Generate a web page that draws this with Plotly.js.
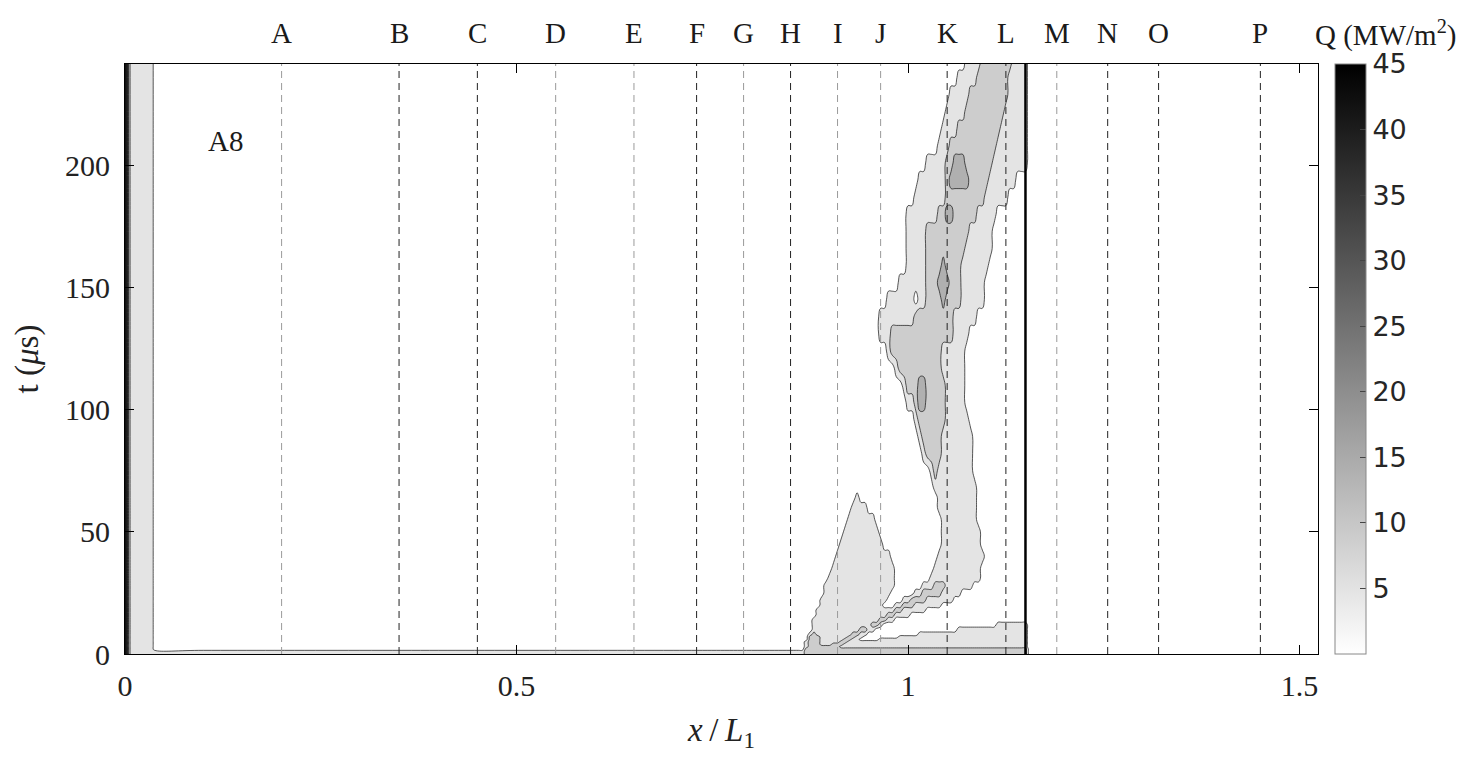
<!DOCTYPE html>
<html>
<head>
<meta charset="utf-8">
<script src="https://cdn.plot.ly/plotly-3.0.1.min.js"></script>
<style>
  html, body { margin: 0; padding: 0; background: #fff; }
  #chart { width: 1481px; height: 768px; }
</style>
</head>
<body>
<div id="chart"></div>
<script>
// grid of the heat-flux field, x/L1 columns and t (us) rows
const xGrid = [0, 0.005, 0.008, 0.034, 0.038, 0.1, 0.3, 0.5, 0.7, 0.8, 0.85,
    0.86, 0.865, 0.87, 0.875, 0.88, 0.885, 0.89, 0.895, 0.9, 0.905, 0.91, 0.915, 0.92, 0.925, 0.93,
    0.935, 0.94, 0.945, 0.95, 0.955, 0.96, 0.965, 0.97, 0.975, 0.98, 0.985, 0.99, 0.995, 1.0, 1.005,
    1.01, 1.015, 1.02, 1.025, 1.03, 1.035, 1.04, 1.045, 1.05, 1.055, 1.06, 1.065, 1.07, 1.075, 1.08,
    1.085, 1.09, 1.095, 1.1, 1.105, 1.11, 1.115, 1.12, 1.125, 1.13, 1.135, 1.14, 1.145, 1.15,
    1.155, 1.5236];
const tGrid = [0, 1, 2, 3, 4, 5, 6, 7, 8, 10, 12, 14, 16, 18, 20, 22, 25, 28, 31, 35, 40, 45, 50, 55,
    60, 64, 68, 75, 82, 89, 96, 103, 110, 117, 124, 131, 138, 145, 152, 159, 166, 173, 180, 187,
    194, 201, 208, 215, 222, 229, 236, 242];

// flux band read at each node (0: <5, 1: 5-10, 2: 10-15, 3: 15-20 ... 9: >45 MW/m2)
// rows are run-length pairs: band, number of columns
const strip = [9,1, 2,1, 1,2, 0,7];
const open = [0,2];
const bandRuns = [
    [9,1, 2,1, 1,9, 1,2, 2,57, 0,2],
    [9,1, 2,1, 1,9, 1,2, 2,57, 0,2],
    [...strip, 0,2, 2,57, ...open],
    [...strip, 0,2, 1,1, 2,8, 1,48, ...open],
    [...strip, 0,2, 1,1, 2,3, 1,3, 2,3, 1,47, ...open],
    [...strip, 0,2, 1,1, 2,3, 1,5, 2,2, 1,46, ...open],
    [...strip, 0,3, 2,3, 1,6, 2,2, 1,2, 0,5, 1,38, ...open],
    [...strip, 0,3, 2,3, 1,7, 2,2, 1,2, 0,9, 1,33, ...open],
    [...strip, 0,3, 1,1, 2,1, 1,9, 2,2, 1,2, 0,13, 1,28, ...open],
    [...strip, 0,4, 1,12, 2,2, 1,2, 0,21, 1,18, ...open],
    [...strip, 0,4, 1,15, 2,2, 1,1, 0,29, 1,8, ...open],
    [...strip, 0,4, 1,17, 2,2, 1,2, 0,34, ...open],
    [...strip, 0,5, 1,18, 2,2, 1,4, 0,30, ...open],
    [...strip, 0,5, 1,20, 2,2, 1,6, 0,26, ...open],
    [...strip, 0,6, 1,16, 0,3, 1,2, 2,3, 1,7, 0,22, ...open],
    [...strip, 0,6, 1,17, 0,4, 1,2, 2,4, 1,7, 0,19, ...open],
    [...strip, 0,7, 1,17, 0,6, 1,2, 2,5, 1,5, 0,17, ...open],
    [...strip, 0,7, 1,18, 0,7, 1,3, 2,3, 1,7, 0,14, ...open],
    [...strip, 0,8, 1,17, 0,9, 1,13, 0,12, ...open],
    [...strip, 0,9, 1,16, 0,10, 1,12, 0,12, ...open],
    [...strip, 0,10, 1,14, 0,12, 1,12, 0,11, ...open],
    [...strip, 0,11, 1,11, 0,15, 1,10, 0,12, ...open],
    [...strip, 0,12, 1,9, 0,16, 1,10, 0,12, ...open],
    [...strip, 0,13, 1,7, 0,17, 1,9, 0,13, ...open],
    [...strip, 0,14, 1,4, 0,18, 1,10, 0,13, ...open],
    [...strip, 0,15, 1,1, 0,20, 1,10, 0,13, ...open],
    [...strip, 0,35, 1,11, 0,13, ...open],
    [...strip, 0,34, 1,1, 2,1, 1,9, 0,14, ...open],
    [...strip, 0,32, 1,1, 2,4, 1,8, 0,14, ...open],
    [...strip, 0,31, 1,1, 2,5, 1,8, 0,14, ...open],
    [...strip, 0,30, 1,1, 2,7, 1,6, 0,15, ...open],
    [...strip, 0,28, 1,2, 2,1, 3,2, 2,5, 1,5, 0,16, ...open],
    [...strip, 0,27, 1,1, 2,3, 3,2, 2,5, 1,5, 0,16, ...open],
    [...strip, 0,25, 1,1, 2,11, 1,6, 0,16, ...open],
    [...strip, 0,23, 1,1, 2,13, 1,6, 0,16, ...open],
    [...strip, 0,21, 1,3, 2,16, 1,4, 0,15, ...open],
    [...strip, 0,21, 1,9, 2,10, 1,6, 0,13, ...open],
    [...strip, 0,23, 1,7, 0,1, 1,2, 2,4, 3,1, 2,4, 1,6, 0,11, ...open],
    [...strip, 0,26, 1,7, 2,3, 3,3, 2,3, 1,6, 0,11, ...open],
    [...strip, 0,28, 1,5, 2,4, 3,1, 2,4, 1,7, 0,10, ...open],
    [...strip, 0,28, 1,5, 2,10, 1,7, 0,9, ...open],
    [...strip, 0,28, 1,5, 2,11, 1,6, 0,9, ...open],
    [...strip, 0,28, 1,8, 2,2, 3,2, 2,6, 1,5, 0,8, ...open],
    [...strip, 0,30, 1,8, 2,10, 1,6, 0,5, ...open],
    [...strip, 0,31, 1,7, 2,1, 3,5, 2,5, 1,7, 0,3, ...open],
    [...strip, 0,33, 1,5, 2,2, 3,3, 2,7, 1,9, ...open],
    [...strip, 0,36, 1,3, 2,12, 1,8, ...open],
    [...strip, 0,37, 1,4, 2,11, 1,7, ...open],
    [...strip, 0,38, 1,5, 2,10, 1,6, ...open],
    [...strip, 0,39, 1,5, 2,10, 1,5, ...open],
    [...strip, 0,41, 1,5, 2,8, 1,5, ...open],
    [...strip, 0,43, 1,4, 2,8, 1,4, ...open]
];

// gauge positions along the channel
const probeX = [0.2, 0.35, 0.45, 0.55, 0.65, 0.73, 0.79, 0.85, 0.91, 0.965, 1.05, 1.125, 1.19, 1.255, 1.32, 1.45];
const probeLabels = ['A', 'B', 'C', 'D', 'E', 'F', 'G', 'H', 'I', 'J', 'K', 'L', 'M', 'N', 'O', 'P'];
const probeDark = [false, true, true, false, false, true, false, true, false, false, true, true, false, true, true, true];
const wallX = 1.15;
const fluxTicks = [5, 10, 15, 20, 25, 30, 35, 40, 45];

const serif = 'Liberation Serif, DejaVu Serif, serif';

// band index -> flux value in the middle of the band
function expandRow(runs) {
    let row = [];
    for (let k = 0; k < runs.length; k += 2) {
        for (let n = 0; n < runs[k + 1]; n++) row.push(runs[k] * 5 + 2.5);
    }
    if (row.length !== xGrid.length) console.warn('row length', row.length);
    return row;
}
const zField = bandRuns.map(expandRow);

let fieldTrace = {
    type: 'contour',
    x: xGrid,
    y: tGrid,
    z: zField,
    autocontour: false,
    contours: {start: 5, end: 45, size: 5, coloring: 'fill', showlines: true},
    colorscale: [[0, '#ffffff'], [1 / 9, '#e4e4e4'], [2 / 9, '#cdcdcd'], [3 / 9, '#b0b0b0'], [1, '#000000']],
    line: {color: '#111', width: 0.7, smoothing: 1.2},
    showscale: false,
    hoverinfo: 'skip'
};

// invisible trace that only carries the flux colour bar
let scaleTrace = {
    type: 'scatter',
    mode: 'markers',
    x: [0.5, 0.5],
    y: [100, 100],
    marker: {
        size: 1, opacity: 0,
        color: [0, 45], cmin: 0, cmax: 45,
        colorscale: [[0, '#ffffff'], [1, '#000000']],
        showscale: true,
        colorbar: {
            x: 1.0142, xanchor: 'left', xpad: 0,
            y: 0.5, yanchor: 'middle', len: 1, lenmode: 'fraction', ypad: 0,
            thickness: 31, thicknessmode: 'pixels',
            outlinewidth: 1, outlinecolor: '#888',
            ticks: 'inside', ticklen: 6, tickcolor: '#444',
            tickvals: fluxTicks,
            tickfont: {family: 'DejaVu Sans', size: 27, color: '#262626'}
        }
    },
    hoverinfo: 'skip',
    showlegend: false
};

let shapes = probeX.map((px, i) => ({
    type: 'line', xref: 'x', yref: 'paper',
    x0: px, x1: px, y0: 0, y1: 1,
    line: {color: probeDark[i] ? '#222' : '#9a9a9a', width: 1, dash: '7px,5px'},
    layer: 'above'
}));
shapes.push({
    type: 'line', xref: 'x', yref: 'paper',
    x0: wallX, x1: wallX, y0: 0, y1: 1,
    line: {color: '#000', width: 2.5},
    layer: 'above'
});

let annotations = probeX.map((px, i) => ({
    x: px, xref: 'x', y: 1, yref: 'paper', yanchor: 'middle', yshift: 31,
    text: probeLabels[i], showarrow: false,
    font: {family: serif, size: 29, color: '#1a1a1a'}
}));
annotations.push({
    x: 0.9958, xref: 'paper', xanchor: 'left', y: 1, yref: 'paper', yanchor: 'middle', yshift: 31,
    text: 'Q (MW/m<sup>2</sup>)', showarrow: false,
    font: {family: serif, size: 29, color: '#1a1a1a'}
});
annotations.push({
    x: 0.128, xref: 'x', y: 210, yref: 'y',
    text: 'A8', showarrow: false,
    font: {family: serif, size: 29, color: '#1a1a1a'}
});

let layout = {
    width: 1481,
    height: 768,
    margin: {l: 125, r: 163, t: 64, b: 114},
    paper_bgcolor: '#fff',
    plot_bgcolor: '#fff',
    showlegend: false,
    hovermode: false,
    xaxis: {
        range: [0, 1.5236],
        tickvals: [0, 0.5, 1, 1.5],
        ticktext: ['0', '0.5', '1', '1.5'],
        ticks: 'inside', ticklen: 9, tickcolor: '#000',
        showline: true, linecolor: '#000', linewidth: 1, mirror: 'ticks',
        showgrid: false, zeroline: false,
        ticklabelstandoff: 5,
        tickfont: {family: serif, size: 30, color: '#222'},
        title: {text: '<i>x</i>\u2009/\u2009<i>L</i><sub>1</sub>', font: {family: serif, size: 33, color: '#222'}, standoff: 16}
    },
    yaxis: {
        range: [0, 241.5],
        tickvals: [0, 50, 100, 150, 200],
        ticks: 'inside', ticklen: 9, tickcolor: '#000',
        showline: true, linecolor: '#000', linewidth: 1, mirror: 'ticks',
        showgrid: false, zeroline: false,
        ticklabelstandoff: 8,
        tickfont: {family: serif, size: 30, color: '#222'},
        title: {text: 't (<i>μ</i>s)', font: {family: serif, size: 33, color: '#222'}, standoff: 16}
    },
    shapes: shapes,
    annotations: annotations
};

Plotly.newPlot('chart', [fieldTrace, scaleTrace], layout, {displayModeBar: false, staticPlot: true});
</script>
</body>
</html>
